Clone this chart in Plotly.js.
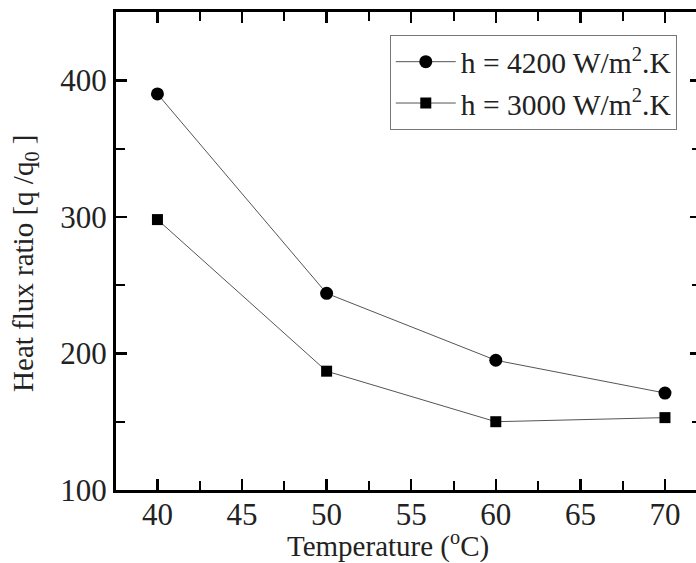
<!DOCTYPE html>
<html>
<head>
<meta charset="utf-8">
<script src="https://cdn.plot.ly/plotly-3.0.1.min.js"></script>
<style>
html, body { margin: 0; padding: 0; overflow: hidden; background: #fff; }
#chart { width: 702px; height: 563px; }
</style>
</head>
<body>
<div id="chart"></div>
<script>
var temperature = [40, 50, 60, 70];
var ratioH4200 = [390, 244, 195, 171];
var ratioH3000 = [298, 187, 150, 153];
var seriesNames = ['h = 4200 W/m<sup>2</sup>.K', 'h = 3000 W/m<sup>2</sup>.K'];
var xTicks = [40, 45, 50, 55, 60, 65, 70];
var yTicks = [100, 200, 300, 400];
var xTitle = 'Temperature (<sup>o</sup>C)';
var yTitle = 'Heat flux ratio [q /q<sub>0</sub> ]';

var serif = '"Liberation Serif", "Times New Roman", serif';

var traces = [
  {
    x: temperature, y: ratioH4200, name: seriesNames[0],
    mode: 'lines+markers', type: 'scatter',
    line: {color: '#555', width: 1},
    marker: {symbol: 'circle', size: 13, color: '#000'}
  },
  {
    x: temperature, y: ratioH3000, name: seriesNames[1],
    mode: 'lines+markers', type: 'scatter',
    line: {color: '#555', width: 1},
    marker: {symbol: 'square', size: 11, color: '#000'}
  }
];

var axisCommon = {
  showline: true, linecolor: '#000', linewidth: 3,
  mirror: 'ticks', ticks: 'inside', tickcolor: '#000', tickwidth: 2.5, ticklen: 11,
  showgrid: false, zeroline: false,
  tickfont: {family: serif, size: 31, color: '#222'}
};

var layout = {
  width: 702, height: 563,
  margin: {l: 116, r: 1, t: 12, b: 73},
  paper_bgcolor: '#fff', plot_bgcolor: '#fff',
  showlegend: true,
  legend: {
    x: 0.468, y: 0.8525, xanchor: 'left', yanchor: 'middle',
    bgcolor: '#fff', bordercolor: '#777', borderwidth: 1,
    font: {family: serif, size: 29.5, color: '#222'},
    itemwidth: 60, tracegroupgap: 0
  },
  xaxis: Object.assign({}, axisCommon, {
    range: [37.55, 72.13], tickvals: xTicks, ticklabelstandoff: -5,
    minor: {dtick: 2.5, tick0: 40, ticks: 'inside', ticklen: 9, tickwidth: 2, tickcolor: '#000', showgrid: false}
  }),
  yaxis: Object.assign({}, axisCommon, {
    range: [100, 450], tickvals: yTicks,
    minor: {dtick: 50, tick0: 100, ticks: 'inside', ticklen: 9, tickwidth: 2, tickcolor: '#000', showgrid: false}
  }),
  annotations: [
    {text: xTitle, xref: 'paper', yref: 'paper', x: 0.465, y: -0.115,
     xanchor: 'center', yanchor: 'middle', showarrow: false,
     font: {family: serif, size: 29, color: '#222'}},
    {text: yTitle, xref: 'paper', yref: 'paper', x: -0.1556, y: 0.475,
     xanchor: 'center', yanchor: 'middle', showarrow: false, textangle: -90,
     font: {family: serif, size: 29, color: '#222'}}
  ]
};

Plotly.newPlot('chart', traces, layout, {displayModeBar: false, staticPlot: true});
</script>
</body>
</html>
